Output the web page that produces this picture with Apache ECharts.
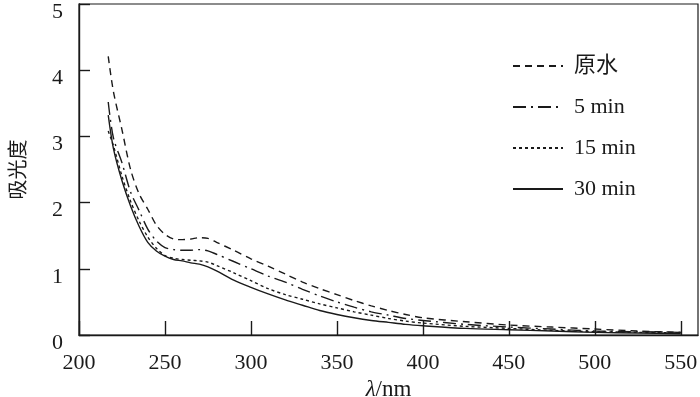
<!DOCTYPE html>
<html>
<head>
<meta charset="utf-8">
<script src="https://cdn.jsdelivr.net/npm/echarts@6/dist/echarts.min.js"></script>
<style>
  html, body { margin: 0; padding: 0; background: #fff; }
  #graph { width: 700px; height: 397px; }
</style>
</head>
<body>
<div id="graph"></div>
<script>
// wavelength (nm)
var wavelengths = [217, 220, 225, 230, 235, 240, 245, 250, 255, 260, 265, 270, 275, 280, 290, 300,
    310, 320, 330, 340, 350, 360, 370, 380, 390, 400, 425, 450, 475, 500, 525, 550];

var rawWater = [4.21, 3.68, 3.10, 2.50, 2.13, 1.90, 1.66, 1.52, 1.45, 1.44, 1.45, 1.47, 1.46, 1.40, 1.28, 1.15,
    1.04, 0.92, 0.80, 0.70, 0.61, 0.52, 0.44, 0.37, 0.31, 0.26, 0.20, 0.15, 0.12, 0.09, 0.06, 0.04];
var min5 = [3.52, 2.98, 2.60, 2.16, 1.88, 1.60, 1.42, 1.32, 1.29, 1.28, 1.28, 1.29, 1.27, 1.22, 1.11, 1.00,
    0.89, 0.80, 0.69, 0.59, 0.50, 0.42, 0.35, 0.30, 0.25, 0.22, 0.16, 0.12, 0.09, 0.06, 0.05, 0.04];
var min15 = [3.08, 2.86, 2.40, 2.02, 1.72, 1.48, 1.31, 1.20, 1.16, 1.14, 1.13, 1.12, 1.10, 1.05, 0.94, 0.82,
    0.70, 0.61, 0.54, 0.47, 0.41, 0.35, 0.30, 0.25, 0.21, 0.18, 0.13, 0.10, 0.07, 0.05, 0.04, 0.03];
var min30 = [3.32, 2.82, 2.33, 1.95, 1.64, 1.40, 1.27, 1.19, 1.14, 1.12, 1.09, 1.07, 1.03, 0.97, 0.83, 0.72,
    0.62, 0.53, 0.45, 0.37, 0.31, 0.26, 0.22, 0.19, 0.16, 0.14, 0.10, 0.08, 0.06, 0.04, 0.03, 0.02];

var seriesNames = ['原水', '5 min', '15 min', '30 min'];

var ink = '#1a1a1a';
var serif = '"Liberation Serif", "Times New Roman", serif';

function pairs(ys) {
    return wavelengths.map(function(x, i) { return [x, ys[i]]; });
}

function makeLine(name, ys, dash) {
    return {
        name: name,
        type: 'line',
        data: pairs(ys),
        symbol: 'none',
        smooth: 0.3,
        lineStyle: { color: ink, width: 1.4, type: dash },
        itemStyle: { color: ink }
    };
}

var option = {
    animation: false,
    backgroundColor: '#fff',
    grid: {
        left: 79, right: 2, top: 4, bottom: 62,
        outerBoundsMode: 'none',
        show: true, borderColor: ink, borderWidth: 1.2
    },
    legend: {
        orient: 'vertical',
        left: 507,
        top: 50,
        itemWidth: 50,
        itemHeight: 14,
        itemGap: 19,
        itemStyle: { opacity: 0 },
        textStyle: { color: ink, fontSize: 22, fontFamily: serif + ', "Noto Sans CJK SC"', padding: [0, 0, 0, 6] },
        data: seriesNames
    },
    xAxis: {
        type: 'value',
        min: 200,
        max: 560,
        interval: 50,
        name: '{i|λ}/nm',
        nameLocation: 'middle',
        nameGap: 41,
        nameTextStyle: {
            color: ink, fontSize: 23, fontFamily: serif,
            rich: { i: { fontStyle: 'italic', fontSize: 23, fontFamily: serif, color: ink } }
        },
        axisLine: { lineStyle: { color: ink, width: 1.4 } },
        axisTick: { inside: true, length: 14, lineStyle: { color: ink, width: 1.4 } },
        axisLabel: { color: ink, fontSize: 22, fontFamily: serif, margin: 17, showMaxLabel: false },
        splitLine: { show: false }
    },
    yAxis: {
        type: 'value',
        min: 0,
        max: 5,
        interval: 1,
        name: '吸光度',
        nameLocation: 'middle',
        nameGap: 52,
        nameTextStyle: { color: ink, fontSize: 20, fontFamily: '"Noto Sans CJK SC"' },
        axisLine: { lineStyle: { color: ink, width: 1.4 } },
        axisTick: { inside: true, length: 11, lineStyle: { color: ink, width: 1.4 } },
        axisLabel: { color: ink, fontSize: 22, fontFamily: serif, margin: 16, verticalAlign: 'top', padding: [-3, 0, 0, 0] },
        splitLine: { show: false }
    },
    series: [
        makeLine(seriesNames[0], rawWater, [7, 5]),
        makeLine(seriesNames[1], min5, [13, 5, 2, 5]),
        makeLine(seriesNames[2], min15, [3, 3]),
        makeLine(seriesNames[3], min30, 'solid')
    ]
};

var chart = echarts.init(document.getElementById('graph'));
chart.setOption(option);
</script>
</body>
</html>
